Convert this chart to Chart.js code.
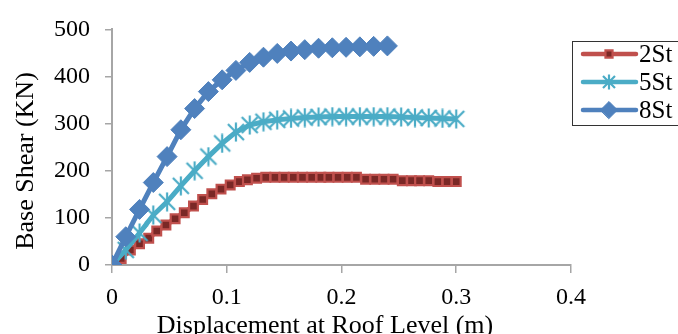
<!DOCTYPE html>
<html><head><meta charset="utf-8">
<script src="https://cdn.jsdelivr.net/npm/chart.js@4/dist/chart.umd.min.js"></script>
<style>html,body{margin:0;padding:0;background:#fff;overflow:hidden}#wrap{width:678px;height:334px;position:relative}</style>
</head><body><div id="wrap"><canvas id="c" width="678" height="334"></canvas></div>
<script>
// ---- data ----
const seriesNames = ['2St', '5St', '8St'];
const disp2St = [0, 0.008, 0.016, 0.024, 0.032, 0.039, 0.047, 0.055, 0.063, 0.071, 0.079, 0.087, 0.095, 0.103, 0.111, 0.118, 0.126, 0.134, 0.142, 0.150, 0.158, 0.166, 0.174, 0.182, 0.189, 0.197, 0.205, 0.213, 0.221, 0.229, 0.237, 0.245, 0.253, 0.261, 0.268, 0.276, 0.284, 0.292, 0.300];
const shear2St = [0, 14, 32, 45, 57, 72, 85, 98, 111, 125, 139, 151, 161, 170, 177, 181, 184, 186, 186, 186, 186, 186, 186, 186, 186, 186, 186, 186, 182, 182, 182, 182, 179, 179, 179, 179, 177, 177, 177];
const disp5St = [0, 0.012, 0.024, 0.036, 0.048, 0.060, 0.072, 0.084, 0.096, 0.108, 0.120, 0.132, 0.144, 0.156, 0.168, 0.180, 0.192, 0.204, 0.216, 0.228, 0.240, 0.252, 0.264, 0.276, 0.288, 0.300];
const shear5St = [0, 32, 68, 106, 134, 168, 200, 230, 258, 282, 297, 304, 308, 311, 313, 314, 315, 315, 315, 315, 315, 314, 313, 312, 311, 310];
const disp8St = [0, 0.012, 0.024, 0.036, 0.048, 0.060, 0.072, 0.084, 0.096, 0.108, 0.120, 0.132, 0.144, 0.156, 0.168, 0.180, 0.192, 0.204, 0.216, 0.228, 0.240];
const shear8St = [0, 60, 118, 175, 230, 287, 332, 368, 393, 413, 430, 441, 449, 454, 457, 460, 461, 462, 463, 464, 465];
const xTicks = [0, 0.1, 0.2, 0.3, 0.4];
const yTicks = [0, 100, 200, 300, 400, 500];
const xTitle = 'Displacement at Roof Level (m)';
const yTitle = 'Base Shear (KN)';

// ---- styles ----
const SERIF = '"Liberation Serif", "Times New Roman", serif';
const RED = '#C0504D', RED_DARK = '#7A2826', CYAN = '#4BACC6', BLUE = '#4F81BD';

function makeAsterisk(color, s) {
  const c = document.createElement('canvas');
  c.width = s; c.height = s;
  const g = c.getContext('2d');
  g.strokeStyle = color; g.lineWidth = 2.2; g.lineCap = 'butt';
  g.beginPath();
  g.moveTo(2, 2); g.lineTo(s - 2, s - 2);
  g.moveTo(s - 2, 2); g.lineTo(2, s - 2);
  g.moveTo(s / 2, 0.5); g.lineTo(s / 2, s - 0.5);
  g.stroke();
  return c;
}
const asterisk = makeAsterisk(CYAN, 20);

function pts(xs, ys) { return xs.map((x, i) => ({ x: x, y: ys[i] })); }

const datasets = [
  { label: seriesNames[0], data: pts(disp2St, shear2St), showLine: true, borderColor: RED, backgroundColor: RED_DARK,
    borderWidth: 5, pointStyle: 'rect', pointRadius: 6.2, pointBackgroundColor: RED_DARK, pointBorderColor: RED,
    pointBorderWidth: 2.2, order: 3, tension: 0 },
  { label: seriesNames[1], data: pts(disp5St, shear5St), showLine: true, borderColor: CYAN, backgroundColor: CYAN,
    borderWidth: 5, pointStyle: asterisk, pointRadius: 10, order: 2, tension: 0 },
  { label: seriesNames[2], data: pts(disp8St, shear8St), showLine: true, borderColor: BLUE, backgroundColor: BLUE,
    borderWidth: 5, pointStyle: 'rectRot', pointRadius: 10, pointBackgroundColor: BLUE, pointBorderColor: BLUE,
    pointBorderWidth: 1, order: 1, tension: 0 }
];

const decor = {
  id: 'decor',
  afterDraw(chart) {
    const ctx = chart.ctx;
    const H = Chart.helpers;
    ctx.save();
    ctx.fillStyle = '#000';
    ctx.font = '26px ' + SERIF;
    ctx.textAlign = 'center';
    ctx.textBaseline = 'alphabetic';
    ctx.fillText(xTitle, 325, 333);
    ctx.save();
    ctx.translate(33, 161);
    ctx.rotate(-Math.PI / 2);
    ctx.fillText(yTitle, 0, 0);
    ctx.restore();
    // legend box
    ctx.strokeStyle = '#333';
    ctx.lineWidth = 1;
    ctx.strokeRect(572.5, 41.5, 120, 84);
    const rows = [54, 82, 110];
    chart.data.datasets.forEach((ds, i) => {
      const y = rows[i];
      ctx.strokeStyle = ds.borderColor;
      ctx.lineWidth = 4.5;
      ctx.lineCap = 'round';
      ctx.beginPath(); ctx.moveTo(583, y); ctx.lineTo(636, y); ctx.stroke();
      ctx.fillStyle = ds.pointBackgroundColor || ds.borderColor;
      ctx.strokeStyle = ds.pointBorderColor || ds.borderColor;
      ctx.lineWidth = ds.pointBorderWidth || 1;
      const r = i === 2 ? 8.5 : (i === 1 ? 8 : 5);
      H.drawPoint(ctx, { pointStyle: i === 1 ? makeAsterisk(CYAN, 16) : ds.pointStyle, radius: r, rotation: 0, borderWidth: ds.pointBorderWidth || 1 }, 609, y);
      ctx.fillStyle = '#000';
      ctx.font = '25px ' + SERIF;
      ctx.textAlign = 'left';
      ctx.textBaseline = 'middle';
      ctx.fillText(ds.label, 639, y + 1);
    });
    ctx.restore();
  }
};

new Chart(document.getElementById('c'), {
  type: 'scatter',
  data: { datasets: datasets },
  options: {
    responsive: false,
    animation: false,
    devicePixelRatio: 1,
    events: [],
    layout: { padding: { left: 0, right: 107, top: 25, bottom: 0 } },
    plugins: { legend: { display: false }, tooltip: { enabled: false } },
    scales: {
      x: {
        type: 'linear', min: 0, max: 0.4,
        afterBuildTicks: ax => { ax.ticks = xTicks.map(v => ({ value: v })); },
        afterFit: ax => { ax.height = 69; },
        grid: { display: true, drawOnChartArea: false, drawTicks: true, tickLength: 8, color: '#a6a6a6', lineWidth: 1.5 },
        border: { display: true, color: '#a6a6a6', width: 2 },
        ticks: { color: '#000', font: { family: SERIF, size: 24 }, padding: 10, maxRotation: 0,
          callback: v => (v === 0 ? '0' : v.toFixed(1)) }
      },
      y: {
        type: 'linear', min: 0, max: 500,
        afterBuildTicks: ax => { ax.ticks = yTicks.map(v => ({ value: v })); },
        afterFit: ax => { ax.width = 112; },
        grid: { display: true, drawOnChartArea: false, drawTicks: true, tickLength: 7, color: '#a6a6a6', lineWidth: 1.5 },
        border: { display: true, color: '#a6a6a6', width: 2 },
        ticks: { color: '#000', font: { family: SERIF, size: 24 }, padding: 15,
          callback: v => String(v) }
      }
    }
  },
  plugins: [decor]
});
</script>
</body></html>
